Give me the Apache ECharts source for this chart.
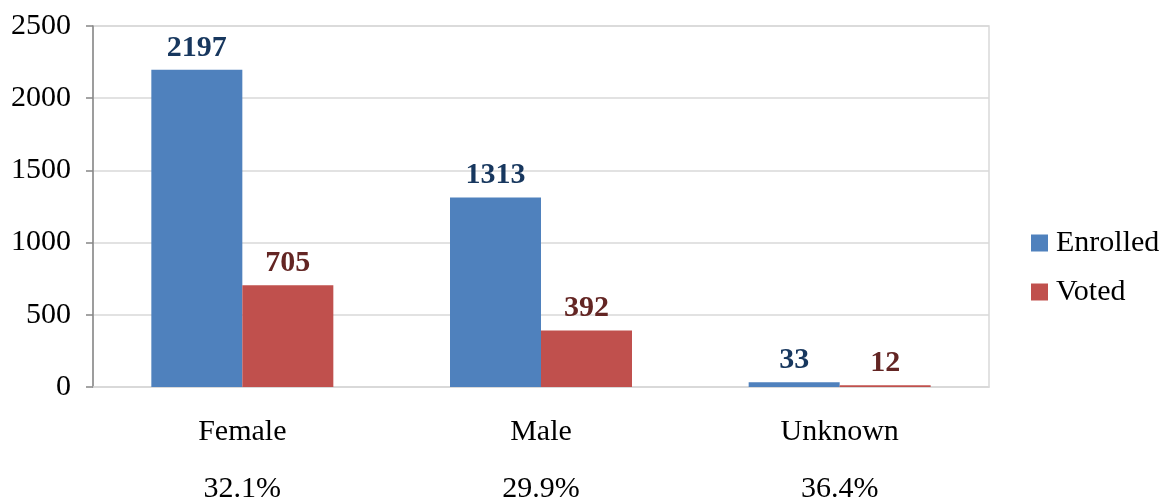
<!DOCTYPE html>
<html>
<head>
<meta charset="utf-8">
<script src="https://cdn.jsdelivr.net/npm/echarts@6/dist/echarts.min.js"></script>
<style>html,body{margin:0;padding:0;background:#fff;}#c{width:1169px;height:501px;}</style>
</head>
<body>
<div id="c"></div>
<script>
const categories = ['Female', 'Male', 'Unknown'];
const percentLabels = ['32.1%', '29.9%', '36.4%'];
const enrolled = [2197, 1313, 33];
const voted = [705, 392, 12];
const yTicks = { min: 0, max: 2500, interval: 500 };

const FONT = '"Liberation Serif", "Times New Roman", serif';
const FS = 30;
const chart = echarts.init(document.getElementById('c'), null, { renderer: 'canvas' });
chart.setOption({
  animation: false,
  backgroundColor: '#fff',
  textStyle: { fontFamily: FONT },
  grid: { left: 93, right: 180, top: 26, bottom: 114, show: true, borderColor: '#d9d9d9', borderWidth: 1.5, containLabel: false, outerBoundsMode: 'none' },
  legend: {
    orient: 'vertical', left: 1026, top: 223,
    itemWidth: 17, itemHeight: 17, itemGap: 19,
    icon: 'rect',
    textStyle: { fontFamily: FONT, fontSize: FS, color: '#000', padding: [0, 0, 0, 3] },
    data: ['Enrolled', 'Voted']
  },
  xAxis: {
    type: 'category', data: categories,
    axisLine: { lineStyle: { color: '#d9d9d9', width: 1.5 } },
    axisTick: { show: false },
    axisLabel: {
      margin: 17,
      formatter: function (v, i) { return '{a|' + v + '}\n{a|' + percentLabels[i] + '}'; },
      rich: { a: { fontFamily: FONT, fontSize: FS, color: '#000', lineHeight: 57 } }
    }
  },
  yAxis: {
    type: 'value', min: yTicks.min, max: yTicks.max, interval: yTicks.interval,
    axisLine: { show: true, lineStyle: { color: '#868686', width: 1.5 } },
    axisTick: { show: true, length: 7, lineStyle: { color: '#868686', width: 1.5 } },
    splitLine: { lineStyle: { color: '#d9d9d9', width: 1.5 } },
    axisLabel: { margin: 22, fontFamily: FONT, fontSize: FS, color: '#000', formatter: function (v) { return String(v); } }
  },
  series: [
    {
      name: 'Enrolled', type: 'bar', data: enrolled, barWidth: 91, barGap: '0%',
      itemStyle: { color: '#4F81BD' },
      label: { show: true, position: 'top', distance: 7, fontFamily: FONT, fontSize: FS, fontWeight: 'bold', color: '#17375E' }
    },
    {
      name: 'Voted', type: 'bar', data: voted, barWidth: 91, barGap: '0%',
      itemStyle: { color: '#C0504D' },
      label: { show: true, position: 'top', distance: 7, fontFamily: FONT, fontSize: FS, fontWeight: 'bold', color: '#632523' }
    }
  ]
});
</script>
</body>
</html>
